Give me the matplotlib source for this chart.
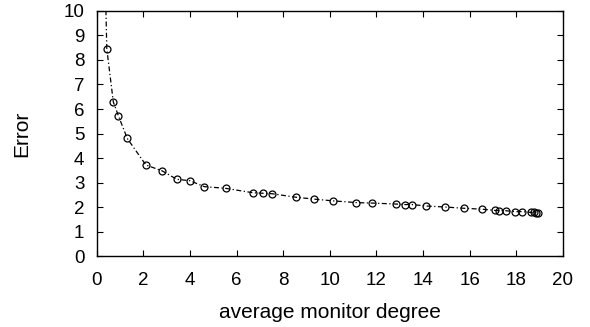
import matplotlib
matplotlib.use("Agg")
import matplotlib.pyplot as plt

plt.rcParams["font.family"] = ["Liberation Sans", "DejaVu Sans"]

# average monitor degree vs. error
degree = [0.3, 0.43, 0.71, 0.93, 1.31, 2.11, 2.81, 3.43, 4.0, 4.61, 5.53,
          6.71, 7.13, 7.53, 8.53, 9.34, 10.14, 11.14, 11.83, 12.86, 13.24,
          13.54, 14.14, 14.94, 15.74, 16.54, 17.1, 17.25, 17.54, 17.94,
          18.23, 18.65, 18.75, 18.85, 18.95]
error = [14.0, 8.46, 6.29, 5.72, 4.80, 3.72, 3.48, 3.14, 3.08, 2.84, 2.77,
         2.59, 2.57, 2.55, 2.41, 2.33, 2.26, 2.19, 2.17, 2.13, 2.11,
         2.11, 2.05, 2.01, 1.96, 1.92, 1.87, 1.86, 1.86, 1.82,
         1.82, 1.79, 1.79, 1.78, 1.78]

x_ticks = list(range(0, 21, 2))
y_ticks = list(range(0, 11))

fig = plt.figure(figsize=(5.9, 3.27), dpi=100)
ax = fig.add_axes([0.164, 0.216, 0.79, 0.751])

ax.plot(degree, error, color="black", linewidth=0.9, dashes=(4, 2, 1, 2),
        marker="o", markersize=5, markerfacecolor="none",
        markeredgecolor="black", markeredgewidth=0.9)

ax.set_xlim(0, 20)
ax.set_ylim(0, 10)
ax.set_xticks(x_ticks)
ax.set_yticks(y_ticks)
ax.tick_params(direction="in", top=True, right=True, length=4, width=0.8,
               labelsize=13.5)
ax.tick_params(axis="x", pad=11)
ax.tick_params(axis="y", pad=9)
for s in ax.spines.values():
    s.set_linewidth(1.0)

ax.set_xlabel("average monitor degree", fontsize=15, labelpad=10)
ax.set_ylabel("Error", fontsize=15, labelpad=23)

fig.savefig("out.png", dpi=100)
